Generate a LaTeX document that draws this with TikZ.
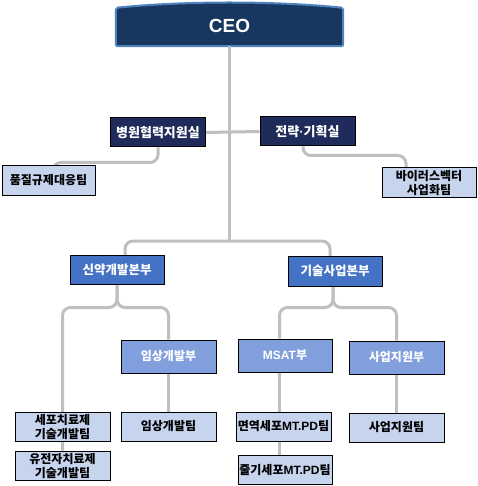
\documentclass[tikz,border=0pt]{standalone}
\usepackage{fontspec}
\newfontfamily\kr{Noto Sans CJK KR}
\newfontfamily\la{Liberation Sans}
\usetikzlibrary{calc}
\pgfdeclarelayer{bg}
\pgfsetlayers{bg,main}
\definecolor{navy}{HTML}{1F2B5A}
\definecolor{ceonavy}{HTML}{17375E}
\definecolor{ceoedge}{HTML}{4F81BD}
\definecolor{mid}{HTML}{4472C4}
\definecolor{soft}{HTML}{819FDC}
\definecolor{pale}{HTML}{C7D4EE}
\definecolor{linegray}{HTML}{BFBFBF}
\tikzset{
  box/.style={draw=black, line width=1pt, inner sep=0pt, align=center,
    minimum width=95pt, minimum height=29pt,
    font=\kr\bfseries\fontsize{12}{14}\selectfont},
  topbox/.style={box, fill=navy, text=white, font=\kr\bfseries\fontsize{13}{15}\selectfont},
  midbox/.style={box, fill=mid, text=white, font=\kr\bfseries\fontsize{12.5}{15}\selectfont},
  softbox/.style={box, fill=soft, text=white, minimum height=33pt},
  palebox/.style={box, fill=pale, text=black},
  ceotext/.style={inner sep=0pt, minimum width=227pt, minimum height=40pt,
    text=white, font=\la\bfseries\fontsize{19}{22}\selectfont},
  conn/.style={draw=linegray, line width=3pt, rounded corners=8pt},
}
\begin{document}
\begin{tikzpicture}[x=1pt,y=-1pt]
\useasboundingbox (0,0) rectangle (477,486);

\node[ceotext] (ceo) at (229.5,26) {CEO};

\node[topbox] (hos) at (158,132.5) {병원협력지원실};
\node[topbox] (str) at (307.5,131.5) {전략{\la\bfseries ·}기획실};

\node[palebox, minimum width=93pt] (qual) at (48.5,180.5) {품질규제대응팀};
\node[palebox, minimum width=94pt] (virus) at (429,182.5) {바이러스벡터\\사업화팀};

\node[midbox, minimum width=94pt] (drug) at (117,269.5) {신약개발본부};
\node[midbox, minimum width=94pt, minimum height=30pt] (tech) at (335,271) {기술사업본부};

\node[softbox] (clin) at (168.5,356.5) {임상개발부};
\node[softbox, minimum width=94pt] (msat) at (285,355.5) {{\la\bfseries MSAT}부};
\node[softbox] (biz) at (396.5,357.5) {사업지원부};

\node[palebox] (cell) at (62.5,426.5) {세포치료제\\기술개발팀};
\node[palebox] (gene) at (62.5,465.5) {유전자치료제\\기술개발팀};
\node[palebox] (clinteam) at (168.5,426.5) {임상개발팀};
\node[palebox] (immune) at (283.5,426.5) {면역세포{\la\bfseries MT.PD}팀};
\node[palebox, minimum width=94pt] (stem) at (285,469.5) {줄기세포{\la\bfseries MT.PD}팀};
\node[palebox] (bizteam) at (396.5,427.5) {사업지원팀};

\begin{pgfonlayer}{bg}
  \fill[white] (0,0) rectangle (477,486);
  \path[draw=ceoedge, line width=2pt, fill=ceonavy, rounded corners=2pt]
    (ceo.south west) -- ($(ceo.north west)+(0,2)$)
    .. controls ($(ceo.north west)+(70,-5)$) and ($(ceo.north east)+(-70,-5)$) ..
    ($(ceo.north east)+(0,2)$) -- (ceo.south east) -- cycle;
  \coordinate (j1) at (229.5,241);
  \draw[conn] (ceo.south) -- (j1);
  \draw[conn] (hos.east) -- (str.west);
  \draw[conn] (j1) -| ($(drug.north)+(8,5)$);
  \draw[conn] (j1) -| ($(tech.north)+(-5,5)$);
  \draw[conn] (hos.south) -- ++(0,15) -| ($(qual.north)+(4.5,6)$);
  \draw[conn] ($(str.south)+(-4.5,0)$) -- ++(0,9) -| ($(virus.north)+(-23,6)$);
  \draw[conn] (drug.south) -- ++(0,23) -| (gene.north);
  \draw[conn] (drug.south) -- ++(0,23) -| (clin.north);
  \draw[conn] ($(tech.south)+(-2,0)$) -- ++(0,21) -| ($(msat.north)+(-5.5,0)$);
  \draw[conn] ($(tech.south)+(-2,0)$) -- ++(0,21) -| (biz.north);
  \draw[conn] (clin.south) -- (clinteam.north);
  \draw[conn] ($(msat.south)+(-5.5,0)$) -- ($(stem.north)+(-5.5,0)$);
  \draw[conn] (biz.south) -- (bizteam.north);
\end{pgfonlayer}
\end{tikzpicture}
\end{document}
